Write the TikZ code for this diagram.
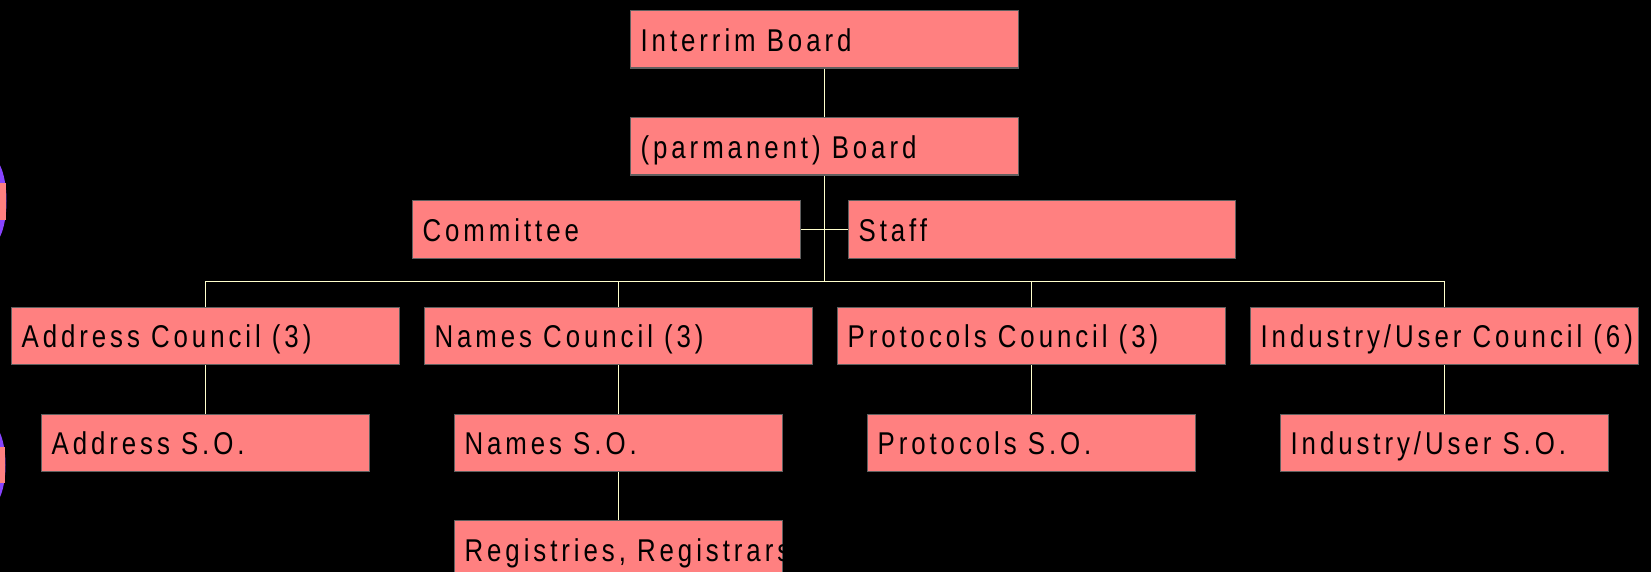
\documentclass[tikz,border=0pt]{standalone}
\usepackage{fontspec}
\setmainfont{Liberation Sans}[FakeStretch=0.82, LetterSpace=12.5]
\definecolor{boxfill}{RGB}{255,128,128}
\definecolor{boxedge}{RGB}{96,96,96}
\definecolor{linkcol}{RGB}{255,255,204}
\definecolor{decoviolet}{RGB}{136,68,255}
% left-aligned labels that may run past the box edge without wrapping
\newcommand\widelbl[1]{\makebox[368pt][l]{#1}}
\newcommand\narrowlbl[1]{\makebox[308pt][l]{#1}}
\begin{document}
\begin{tikzpicture}[x=1pt,y=-1pt,
  box/.style={draw=boxedge, fill=boxfill, line width=1.2pt, anchor=north west,
    minimum height=57.5pt, inner xsep=10pt, inner ysep=0pt,
    text height=24pt, text depth=0pt, font=\fontsize{31.5}{36}\selectfont},
  link/.style={draw=linkcol, line width=1pt}]
\useasboundingbox (0,0) rectangle (1651,572);
\fill[black] (0,0) rectangle (1651,572);

% partly hidden shapes at the left margin
\fill[decoviolet] (-10,201) ellipse [x radius=16.5, y radius=45];
\fill[boxfill] (-5,183) rectangle (6.3,220);
\fill[decoviolet] (-10,465) ellipse [x radius=15.5, y radius=42];
\fill[boxfill] (-5,447) rectangle (5.3,483);

% board level
\node[box] (interim) at (630,10) {\widelbl{Interrim Board}};
\node[box] (board) at (630,117) {\widelbl{(parmanent) Board}};
\node[box] (committee) at (412,200) {\widelbl{Committee}};
\node[box] (staff) at (848,200) {\makebox[367pt][l]{Staff}};

% councils
\node[box] (addc) at (11,306.5) {\widelbl{Address Council (3)}};
\node[box] (namc) at (424,306.5) {\widelbl{Names Council (3)}};
\node[box] (proc) at (837,306.5) {\widelbl{Protocols Council (3)}};
\node[box] (indc) at (1250,306.5) {\widelbl{Industry/User Council (6)}};

% supporting organisations
\node[box] (adds) at (41,413.5) {\narrowlbl{Address S.O.}};
\node[box] (nams) at (454,413.5) {\narrowlbl{Names S.O.}};
\node[box] (pros) at (867,413.5) {\narrowlbl{Protocols S.O.}};
\node[box] (inds) at (1280,413.5) {\narrowlbl{Industry/User S.O.}};
\node[box] (regs) at (454,520) {\narrowlbl{Registries, Registrars}};

% connectors
\coordinate (busy) at (0,281);
\draw[link] (interim.south) -- (board.north);
\draw[link] (board.south) -- (board.south |- busy);
\draw[link] (committee.east) -- (staff.west);
\draw[link] (addc.north |- busy) -- (indc.north |- busy);
\foreach \c in {addc,namc,proc,indc}
  \draw[link] (\c.north |- busy) -- (\c.north);
\draw[link] (addc.south) -- (adds.north);
\draw[link] (namc.south) -- (nams.north);
\draw[link] (proc.south) -- (pros.north);
\draw[link] (indc.south) -- (inds.north);
\draw[link] (nams.south) -- (regs.north);
\end{tikzpicture}
\end{document}
